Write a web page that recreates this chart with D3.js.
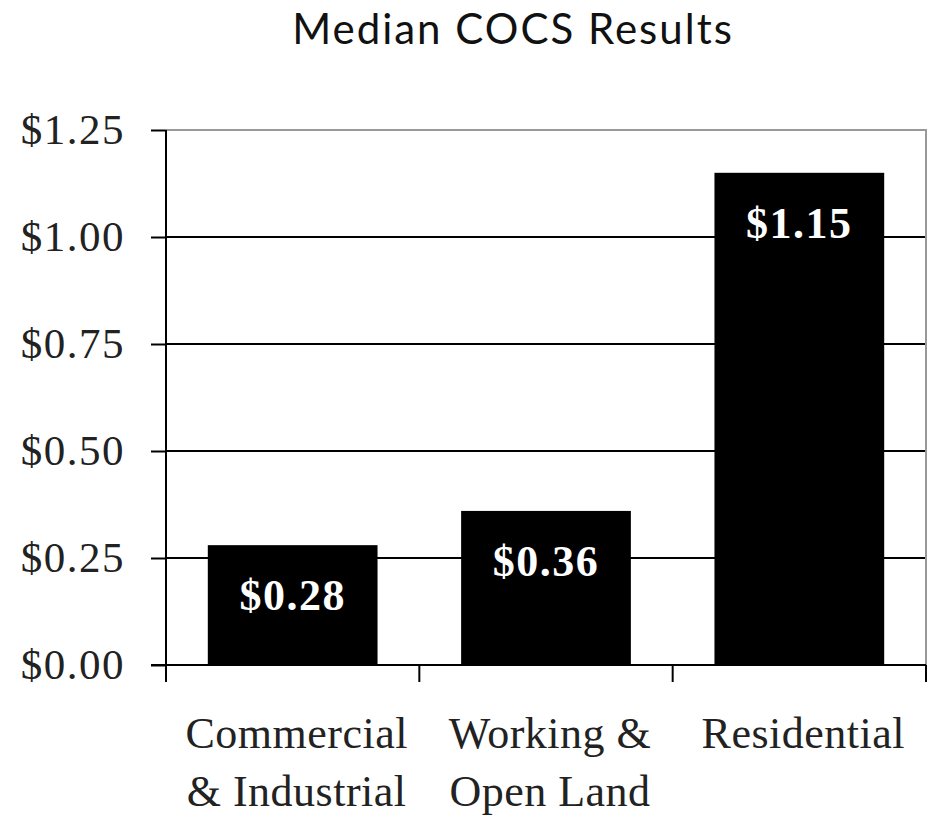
<!DOCTYPE html>
<html>
<head>
<meta charset="utf-8">
<script src="https://cdn.jsdelivr.net/npm/d3@7"></script>
<style>
  body { margin: 0; background: #fff; }
  svg { display: block; }
</style>
</head>
<body>
<div id="chart"></div>
<script>
// data
const categories = [["Commercial", "& Industrial"], ["Working &", "Open Land"], ["Residential"]];
const values = [0.28, 0.36, 1.15];
const valueLabels = ["$0.28", "$0.36", "$1.15"];
const yTicks = [0, 0.25, 0.5, 0.75, 1.0, 1.25];

const width = 928, height = 815;
const margin = {top: 130, right: 2, bottom: 150, left: 166};

const svg = d3.select("#chart").append("svg")
    .attr("width", width)
    .attr("height", height);

const x = d3.scaleBand()
    .domain(d3.range(categories.length))
    .range([margin.left, width - margin.right])
    .paddingInner(0.33)
    .paddingOuter(0.165);

const y = d3.scaleLinear()
    .domain([0, 1.25])
    .range([height - margin.bottom, margin.top]);

// title
svg.append("text")
    .attr("x", 513)
    .attr("y", 44)
    .attr("text-anchor", "middle")
    .style("font-family", "Lato, 'Open Sans', sans-serif")
    .style("font-size", "42px")
    .style("letter-spacing", "2px")
    .style("fill", "#111")
    .text("Median COCS Results");

// gridlines
svg.append("g")
    .selectAll("line")
    .data(yTicks.filter(d => d > 0 && d < 1.25))
    .join("line")
    .attr("x1", margin.left)
    .attr("x2", width - margin.right)
    .attr("y1", d => y(d))
    .attr("y2", d => y(d))
    .attr("stroke", "#000")
    .attr("stroke-width", 2);

// top and right border
svg.append("path")
    .attr("d", `M${margin.left},${y(1.25)}H${width - margin.right}V${y(0)}`)
    .attr("fill", "none")
    .attr("stroke", "#999")
    .attr("stroke-width", 2);

// bars
svg.append("g")
    .selectAll("rect")
    .data(values)
    .join("rect")
    .attr("x", (d, i) => x(i))
    .attr("y", d => y(d))
    .attr("width", x.bandwidth())
    .attr("height", d => y(0) - y(d))
    .attr("fill", "#000");

// value labels inside bars
svg.append("g")
    .selectAll("text")
    .data(values)
    .join("text")
    .attr("x", (d, i) => x(i) + x.bandwidth() / 2)
    .attr("y", d => y(d) + 65)
    .attr("text-anchor", "middle")
    .style("font-family", "'Liberation Serif', 'DejaVu Serif', serif")
    .style("font-weight", "bold")
    .style("font-size", "44px")
    .style("letter-spacing", "1.5px")
    .style("fill", "#fff")
    .text((d, i) => valueLabels[i]);

// y axis
const yAxis = svg.append("g")
    .attr("transform", `translate(${margin.left},0)`)
    .call(d3.axisLeft(y).tickValues(yTicks).tickSize(15).tickPadding(26)
        .tickFormat(d => "$" + d3.format(".2f")(d)));
yAxis.selectAll("path, line").attr("stroke", "#000").attr("stroke-width", 2);
yAxis.select(".domain").attr("d", `M0,${y(1.25)}V${y(0)}`);
yAxis.selectAll("text")
    .style("font-family", "'Liberation Serif', 'DejaVu Serif', serif")
    .style("font-size", "43px")
    .style("letter-spacing", "1.5px")
    .attr("fill", "#222");

// x axis: ticks at band boundaries
const bounds = [margin.left, x(1) - x.step() * x.paddingInner() / 2, x(2) - x.step() * x.paddingInner() / 2, width - margin.right];
const xAxis = svg.append("g");
xAxis.append("line")
    .attr("x1", margin.left - 15).attr("x2", width - margin.right)
    .attr("y1", y(0)).attr("y2", y(0))
    .attr("stroke", "#000").attr("stroke-width", 2);
xAxis.selectAll(".tick")
    .data(bounds)
    .join("line")
    .attr("x1", d => d).attr("x2", d => d)
    .attr("y1", y(0)).attr("y2", y(0) + 17)
    .attr("stroke", "#000").attr("stroke-width", 2);

// category labels
const catLabels = svg.append("g")
    .selectAll("text")
    .data(categories)
    .join("text")
    .attr("x", (d, i) => x(i) + x.bandwidth() / 2 + 4)
    .attr("y", 748)
    .attr("text-anchor", "middle")
    .style("font-family", "'Liberation Serif', 'DejaVu Serif', serif")
    .style("font-size", "44px")
    .style("letter-spacing", "0.5px")
    .style("fill", "#222");
catLabels.selectAll("tspan")
    .data(d => d)
    .join("tspan")
    .attr("x", function() { return this.parentNode.getAttribute("x"); })
    .attr("dy", (d, i) => i === 0 ? 0 : 58)
    .text(d => d);
</script>
</body>
</html>
